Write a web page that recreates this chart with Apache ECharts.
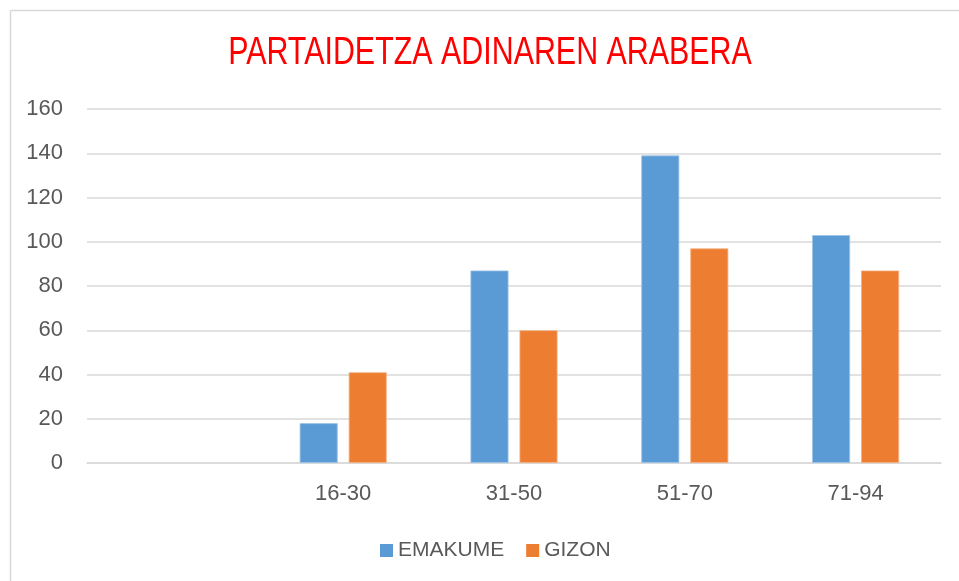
<!DOCTYPE html>
<html>
<head>
<meta charset="utf-8">
<script src="https://cdn.jsdelivr.net/npm/echarts@6/dist/echarts.min.js"></script>
<style>html,body{margin:0;padding:0;background:#fff;}#c{width:959px;height:581px;}</style>
</head>
<body>
<div id="c"></div>
<script>
const categories = ['', '16-30', '31-50', '51-70', '71-94'];
const emakume = [null, 18, 87, 139, 103];
const gizon = [null, 41, 60, 97, 87];
const yTicks = [0, 20, 40, 60, 80, 100, 120, 140, 160];
const titleText = 'PARTAIDETZA ADINAREN ARABERA';

const chart = echarts.init(document.getElementById('c'));
const labelFont = '"Liberation Sans", Arial, sans-serif';
chart.setOption({
  animation: false,
  backgroundColor: '#fff',
  graphic: [
    { type: 'line', shape: { x1: 10.5, y1: 10.5, x2: 10.5, y2: 581 }, style: { stroke: '#D9D9D9', lineWidth: 1.5 } },
    { type: 'line', shape: { x1: 10.5, y1: 10.5, x2: 959, y2: 10.5 }, style: { stroke: '#D9D9D9', lineWidth: 1.5 } },
    { type: 'text', x: 490, y: 54, scaleX: 0.8,
      style: { text: titleText, fill: '#FF0000', font: 'normal 38px "Liberation Sans", Arial, sans-serif',
               textAlign: 'center', textVerticalAlign: 'middle' } }
  ],
  grid: { left: 87, right: 18, top: 109, bottom: 118, containLabel: false },
  legend: {
    data: ['EMAKUME', 'GIZON'],
    left: 375, top: 535,
    itemWidth: 13, itemHeight: 13, itemGap: 22,
    icon: 'rect',
    itemStyle: { borderWidth: 0 },
    textStyle: { color: '#595959', fontSize: 21, fontFamily: labelFont, padding: [0, 0, 0, 0] }
  },
  xAxis: {
    type: 'category', data: categories,
    axisLine: { show: true, lineStyle: { color: '#D9D9D9', width: 1.5 } },
    axisTick: { show: false },
    axisLabel: { color: '#595959', fontSize: 22, fontFamily: labelFont, margin: 20 }
  },
  yAxis: {
    type: 'value', min: yTicks[0], max: yTicks[yTicks.length - 1], interval: 20,
    axisLine: { show: false }, axisTick: { show: false },
    axisLabel: { color: '#595959', fontSize: 22, fontFamily: labelFont, margin: 24 },
    splitLine: { lineStyle: { color: '#D9D9D9', width: 1.5 } }
  },
  series: [
    { name: 'EMAKUME', type: 'bar', data: emakume, barWidth: 38, barGap: '29%',
      itemStyle: { color: '#5B9BD5', borderColor: '#9DC3E6', borderWidth: 0.8 } },
    { name: 'GIZON', type: 'bar', data: gizon, barWidth: 38, barGap: '29%',
      itemStyle: { color: '#ED7D31', borderColor: '#F4B183', borderWidth: 0.8 } }
  ]
});
</script>
</body>
</html>
